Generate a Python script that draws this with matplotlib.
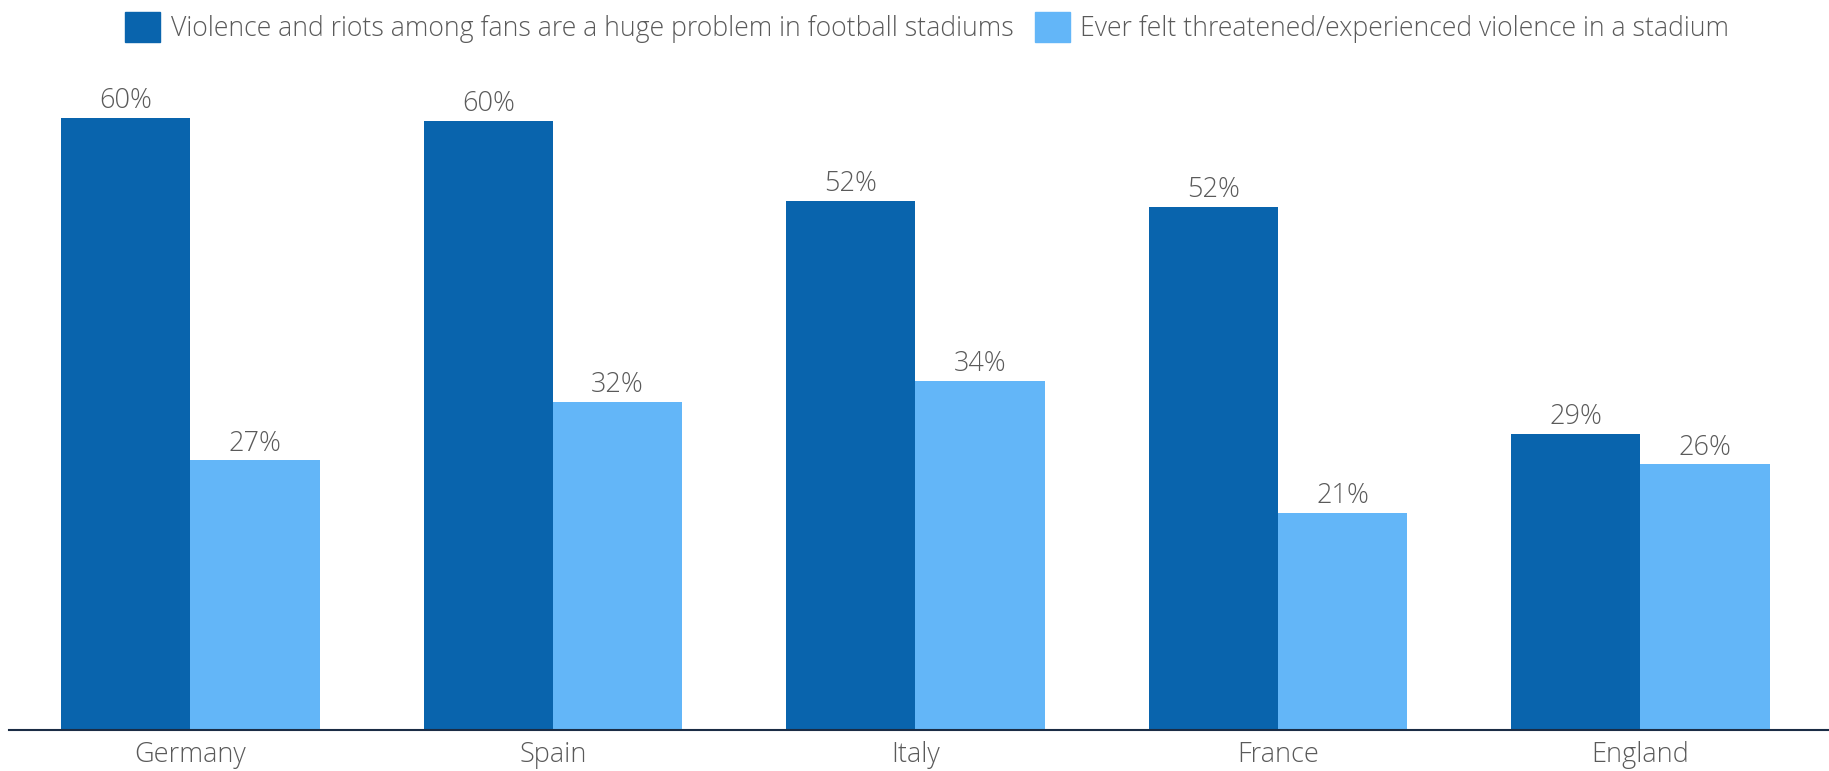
import matplotlib.pyplot as plt
from matplotlib.patches import Patch
import numpy as np

countries = ["Germany", "Spain", "Italy", "France", "England"]
huge_problem = [60.4, 60.1, 52.2, 51.6, 29.2]
felt_threatened = [26.6, 32.4, 34.4, 21.4, 26.2]
series_names = [
    "Violence and riots among fans are a huge problem in football stadiums",
    "Ever felt threatened/experienced violence in a stadium",
]

dark_blue = "#0964ad"
light_blue = "#63b6f8"
text_gray = "#5a5a5a"

plt.rcParams['font.family'] = ['Open Sans', 'DejaVu Sans']

fig = plt.figure(figsize=(18.29, 7.71), dpi=100)
ax = fig.add_axes([0.005, 0.053, 0.995, 0.855])

x = np.arange(len(countries))
w = 0.357
b1 = ax.bar(x - w / 2, huge_problem, w, color=dark_blue)
b2 = ax.bar(x + w / 2, felt_threatened, w, color=light_blue)

for bars, vals in [(b1, huge_problem), (b2, felt_threatened)]:
    for rect, v in zip(bars, vals):
        ax.annotate(f"{round(v)}%", (rect.get_x() + rect.get_width() / 2, v),
                    xytext=(0, 2), textcoords="offset points",
                    ha="center", va="bottom", fontsize=19.5, color=text_gray,
                    fontweight="light")

ax.set_xlim(-0.5, 4.52)
ax.set_ylim(0, 65)
ax.set_xticks(x)
ax.set_xticklabels(countries, fontsize=19.5, color=text_gray, fontweight="light")
ax.tick_params(axis="x", length=0, pad=8)
ax.set_yticks([])
for s in ["top", "right", "left"]:
    ax.spines[s].set_visible(False)
ax.spines["bottom"].set_color("#1a2c45")
ax.spines["bottom"].set_linewidth(1.5)

handles = [Patch(color=dark_blue), Patch(color=light_blue)]
leg = fig.legend(handles, series_names, loc="upper center", ncol=2,
                 bbox_to_anchor=(0.507, 1.015), frameon=False, fontsize=19.2,
                 handlelength=1.3, handleheight=1.3, handletextpad=0.4,
                 columnspacing=0.8)
for t in leg.get_texts():
    t.set_color(text_gray)
    t.set_fontweight("light")

fig.savefig("out.png", dpi=100)
